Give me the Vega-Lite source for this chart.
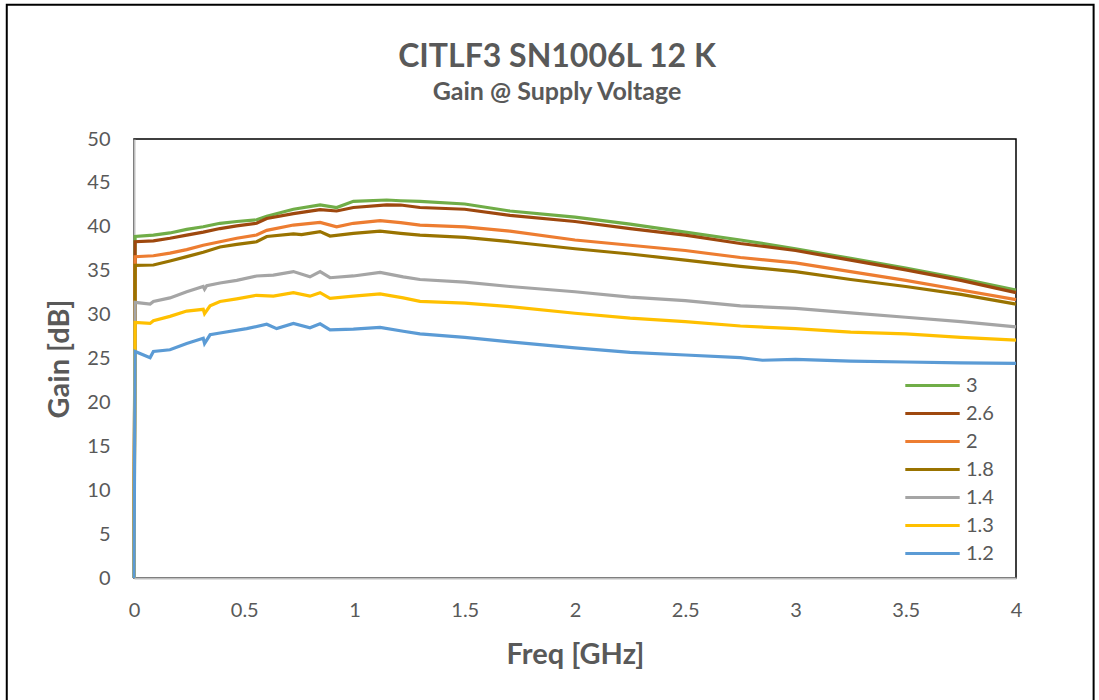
{
  "$schema": "https://vega.github.io/schema/vega-lite/v6.json",
  "width": 882,
  "height": 439,
  "autosize": "none",
  "padding": {"left": 134, "top": 139, "right": 83, "bottom": 122},
  "background": "white",
  "title": {
    "text": "CITLF3 SN1006L 12 K",
    "subtitle": "Gain @ Supply Voltage",
    "anchor": "middle",
    "frame": "group",
    "dx": -18,
    "offset": -102,
    "font": "Lato",
    "fontSize": 32,
    "fontWeight": "bold",
    "color": "#595959",
    "subtitleFont": "Lato",
    "subtitleFontSize": 25,
    "subtitleFontWeight": "bold",
    "subtitleColor": "#595959",
    "subtitlePadding": 6
  },
  "config": {
    "view": {"stroke": "#000000", "strokeWidth": 1.5},
    "font": "Lato",
    "axis": {
      "labelFont": "Lato",
      "labelFontSize": 20,
      "labelColor": "#595959",
      "titleFont": "Lato",
      "titleFontSize": 29,
      "titleFontWeight": "bold",
      "titleColor": "#595959",
      "gridColor": "#d9d9d9",
      "gridWidth": 1.5,
      "domainColor": "#bfbfbf",
      "domainWidth": 2,
      "ticks": false
    },
    "legend": {
      "labelFont": "Lato",
      "labelFontSize": 20,
      "labelColor": "#595959"
    }
  },
  "datasets": {
    "gain": [
      {"V": "3", "f": 0, "g": 0},
      {"V": "3", "f": 0.005, "g": 38.9},
      {"V": "3", "f": 0.088, "g": 39.05},
      {"V": "3", "f": 0.163, "g": 39.3},
      {"V": "3", "f": 0.239, "g": 39.7},
      {"V": "3", "f": 0.314, "g": 40.0},
      {"V": "3", "f": 0.39, "g": 40.4},
      {"V": "3", "f": 0.466, "g": 40.6},
      {"V": "3", "f": 0.556, "g": 40.8},
      {"V": "3", "f": 0.602, "g": 41.2},
      {"V": "3", "f": 0.723, "g": 42.0},
      {"V": "3", "f": 0.844, "g": 42.5},
      {"V": "3", "f": 0.919, "g": 42.2},
      {"V": "3", "f": 0.995, "g": 42.9},
      {"V": "3", "f": 1.146, "g": 43.05},
      {"V": "3", "f": 1.209, "g": 42.97},
      {"V": "3", "f": 1.297, "g": 42.9},
      {"V": "3", "f": 1.5, "g": 42.6},
      {"V": "3", "f": 1.705, "g": 41.8},
      {"V": "3", "f": 2.0, "g": 41.1},
      {"V": "3", "f": 2.25, "g": 40.3},
      {"V": "3", "f": 2.5, "g": 39.4},
      {"V": "3", "f": 2.75, "g": 38.5},
      {"V": "3", "f": 3.0, "g": 37.5},
      {"V": "3", "f": 3.25, "g": 36.4},
      {"V": "3", "f": 3.5, "g": 35.3},
      {"V": "3", "f": 3.75, "g": 34.1},
      {"V": "3", "f": 4.0, "g": 32.8},

      {"V": "2.6", "f": 0, "g": 0},
      {"V": "2.6", "f": 0.005, "g": 38.3},
      {"V": "2.6", "f": 0.088, "g": 38.4},
      {"V": "2.6", "f": 0.163, "g": 38.7},
      {"V": "2.6", "f": 0.239, "g": 39.06},
      {"V": "2.6", "f": 0.314, "g": 39.4},
      {"V": "2.6", "f": 0.39, "g": 39.8},
      {"V": "2.6", "f": 0.466, "g": 40.1},
      {"V": "2.6", "f": 0.556, "g": 40.4},
      {"V": "2.6", "f": 0.602, "g": 40.95},
      {"V": "2.6", "f": 0.723, "g": 41.5},
      {"V": "2.6", "f": 0.844, "g": 41.95},
      {"V": "2.6", "f": 0.919, "g": 41.8},
      {"V": "2.6", "f": 0.995, "g": 42.2},
      {"V": "2.6", "f": 1.146, "g": 42.5},
      {"V": "2.6", "f": 1.209, "g": 42.48},
      {"V": "2.6", "f": 1.297, "g": 42.2},
      {"V": "2.6", "f": 1.5, "g": 42.0},
      {"V": "2.6", "f": 1.705, "g": 41.3},
      {"V": "2.6", "f": 2.0, "g": 40.6},
      {"V": "2.6", "f": 2.25, "g": 39.8},
      {"V": "2.6", "f": 2.5, "g": 39.06},
      {"V": "2.6", "f": 2.75, "g": 38.1},
      {"V": "2.6", "f": 3.0, "g": 37.3},
      {"V": "2.6", "f": 3.25, "g": 36.2},
      {"V": "2.6", "f": 3.5, "g": 35.1},
      {"V": "2.6", "f": 3.75, "g": 33.9},
      {"V": "2.6", "f": 4.0, "g": 32.5},

      {"V": "2", "f": 0, "g": 0},
      {"V": "2", "f": 0.005, "g": 36.6},
      {"V": "2", "f": 0.088, "g": 36.7},
      {"V": "2", "f": 0.163, "g": 37.0},
      {"V": "2", "f": 0.239, "g": 37.4},
      {"V": "2", "f": 0.314, "g": 37.9},
      {"V": "2", "f": 0.39, "g": 38.3},
      {"V": "2", "f": 0.466, "g": 38.7},
      {"V": "2", "f": 0.556, "g": 39.06},
      {"V": "2", "f": 0.602, "g": 39.6},
      {"V": "2", "f": 0.723, "g": 40.2},
      {"V": "2", "f": 0.844, "g": 40.5},
      {"V": "2", "f": 0.919, "g": 40.0},
      {"V": "2", "f": 0.995, "g": 40.4},
      {"V": "2", "f": 1.116, "g": 40.7},
      {"V": "2", "f": 1.209, "g": 40.47},
      {"V": "2", "f": 1.297, "g": 40.2},
      {"V": "2", "f": 1.5, "g": 40.0},
      {"V": "2", "f": 1.705, "g": 39.5},
      {"V": "2", "f": 2.0, "g": 38.5},
      {"V": "2", "f": 2.25, "g": 37.9},
      {"V": "2", "f": 2.5, "g": 37.3},
      {"V": "2", "f": 2.75, "g": 36.5},
      {"V": "2", "f": 3.0, "g": 35.9},
      {"V": "2", "f": 3.25, "g": 34.9},
      {"V": "2", "f": 3.5, "g": 33.9},
      {"V": "2", "f": 3.75, "g": 32.8},
      {"V": "2", "f": 4.0, "g": 31.7},

      {"V": "1.8", "f": 0, "g": 0},
      {"V": "1.8", "f": 0.005, "g": 35.6},
      {"V": "1.8", "f": 0.088, "g": 35.65},
      {"V": "1.8", "f": 0.163, "g": 36.1},
      {"V": "1.8", "f": 0.239, "g": 36.6},
      {"V": "1.8", "f": 0.314, "g": 37.1},
      {"V": "1.8", "f": 0.39, "g": 37.7},
      {"V": "1.8", "f": 0.466, "g": 38.0},
      {"V": "1.8", "f": 0.556, "g": 38.3},
      {"V": "1.8", "f": 0.602, "g": 38.9},
      {"V": "1.8", "f": 0.723, "g": 39.2},
      {"V": "1.8", "f": 0.76, "g": 39.1},
      {"V": "1.8", "f": 0.844, "g": 39.45},
      {"V": "1.8", "f": 0.889, "g": 38.95},
      {"V": "1.8", "f": 0.995, "g": 39.26},
      {"V": "1.8", "f": 1.116, "g": 39.5},
      {"V": "1.8", "f": 1.209, "g": 39.26},
      {"V": "1.8", "f": 1.297, "g": 39.06},
      {"V": "1.8", "f": 1.5, "g": 38.8},
      {"V": "1.8", "f": 1.705, "g": 38.3},
      {"V": "1.8", "f": 2.0, "g": 37.5},
      {"V": "1.8", "f": 2.25, "g": 36.9},
      {"V": "1.8", "f": 2.5, "g": 36.2},
      {"V": "1.8", "f": 2.75, "g": 35.5},
      {"V": "1.8", "f": 3.0, "g": 34.9},
      {"V": "1.8", "f": 3.25, "g": 34.0},
      {"V": "1.8", "f": 3.5, "g": 33.2},
      {"V": "1.8", "f": 3.75, "g": 32.3},
      {"V": "1.8", "f": 4.0, "g": 31.2},

      {"V": "1.4", "f": 0, "g": 0},
      {"V": "1.4", "f": 0.005, "g": 31.4},
      {"V": "1.4", "f": 0.073, "g": 31.2},
      {"V": "1.4", "f": 0.088, "g": 31.5},
      {"V": "1.4", "f": 0.163, "g": 31.9},
      {"V": "1.4", "f": 0.239, "g": 32.6},
      {"V": "1.4", "f": 0.314, "g": 33.2},
      {"V": "1.4", "f": 0.32, "g": 32.9},
      {"V": "1.4", "f": 0.33, "g": 33.3},
      {"V": "1.4", "f": 0.39, "g": 33.6},
      {"V": "1.4", "f": 0.466, "g": 33.9},
      {"V": "1.4", "f": 0.556, "g": 34.4},
      {"V": "1.4", "f": 0.632, "g": 34.5},
      {"V": "1.4", "f": 0.723, "g": 34.9},
      {"V": "1.4", "f": 0.798, "g": 34.3},
      {"V": "1.4", "f": 0.844, "g": 34.9},
      {"V": "1.4", "f": 0.889, "g": 34.2},
      {"V": "1.4", "f": 0.995, "g": 34.4},
      {"V": "1.4", "f": 1.116, "g": 34.8},
      {"V": "1.4", "f": 1.221, "g": 34.3},
      {"V": "1.4", "f": 1.297, "g": 34.0},
      {"V": "1.4", "f": 1.5, "g": 33.7},
      {"V": "1.4", "f": 1.705, "g": 33.2},
      {"V": "1.4", "f": 2.0, "g": 32.6},
      {"V": "1.4", "f": 2.25, "g": 32.0},
      {"V": "1.4", "f": 2.5, "g": 31.6},
      {"V": "1.4", "f": 2.75, "g": 31.0},
      {"V": "1.4", "f": 3.0, "g": 30.7},
      {"V": "1.4", "f": 3.25, "g": 30.2},
      {"V": "1.4", "f": 3.5, "g": 29.7},
      {"V": "1.4", "f": 3.75, "g": 29.2},
      {"V": "1.4", "f": 4.0, "g": 28.6},

      {"V": "1.3", "f": 0, "g": 0},
      {"V": "1.3", "f": 0.005, "g": 29.1},
      {"V": "1.3", "f": 0.073, "g": 29.0},
      {"V": "1.3", "f": 0.088, "g": 29.3},
      {"V": "1.3", "f": 0.163, "g": 29.8},
      {"V": "1.3", "f": 0.239, "g": 30.4},
      {"V": "1.3", "f": 0.314, "g": 30.6},
      {"V": "1.3", "f": 0.32, "g": 30.1},
      {"V": "1.3", "f": 0.345, "g": 31.0},
      {"V": "1.3", "f": 0.39, "g": 31.5},
      {"V": "1.3", "f": 0.466, "g": 31.8},
      {"V": "1.3", "f": 0.556, "g": 32.2},
      {"V": "1.3", "f": 0.632, "g": 32.1},
      {"V": "1.3", "f": 0.723, "g": 32.5},
      {"V": "1.3", "f": 0.798, "g": 32.1},
      {"V": "1.3", "f": 0.844, "g": 32.5},
      {"V": "1.3", "f": 0.889, "g": 31.85},
      {"V": "1.3", "f": 0.995, "g": 32.1},
      {"V": "1.3", "f": 1.116, "g": 32.35},
      {"V": "1.3", "f": 1.221, "g": 31.9},
      {"V": "1.3", "f": 1.297, "g": 31.5},
      {"V": "1.3", "f": 1.5, "g": 31.3},
      {"V": "1.3", "f": 1.705, "g": 30.9},
      {"V": "1.3", "f": 2.0, "g": 30.15},
      {"V": "1.3", "f": 2.25, "g": 29.6},
      {"V": "1.3", "f": 2.5, "g": 29.2},
      {"V": "1.3", "f": 2.75, "g": 28.7},
      {"V": "1.3", "f": 3.0, "g": 28.4},
      {"V": "1.3", "f": 3.25, "g": 28.0},
      {"V": "1.3", "f": 3.5, "g": 27.8},
      {"V": "1.3", "f": 3.75, "g": 27.4},
      {"V": "1.3", "f": 4.0, "g": 27.1},

      {"V": "1.2", "f": 0, "g": 0},
      {"V": "1.2", "f": 0.005, "g": 25.8},
      {"V": "1.2", "f": 0.073, "g": 25.1},
      {"V": "1.2", "f": 0.088, "g": 25.8},
      {"V": "1.2", "f": 0.163, "g": 26.0},
      {"V": "1.2", "f": 0.239, "g": 26.7},
      {"V": "1.2", "f": 0.314, "g": 27.3},
      {"V": "1.2", "f": 0.32, "g": 26.7},
      {"V": "1.2", "f": 0.345, "g": 27.7},
      {"V": "1.2", "f": 0.39, "g": 27.9},
      {"V": "1.2", "f": 0.511, "g": 28.4},
      {"V": "1.2", "f": 0.602, "g": 28.9},
      {"V": "1.2", "f": 0.647, "g": 28.4},
      {"V": "1.2", "f": 0.723, "g": 29.0},
      {"V": "1.2", "f": 0.798, "g": 28.5},
      {"V": "1.2", "f": 0.844, "g": 28.95},
      {"V": "1.2", "f": 0.889, "g": 28.25},
      {"V": "1.2", "f": 0.995, "g": 28.35},
      {"V": "1.2", "f": 1.116, "g": 28.55},
      {"V": "1.2", "f": 1.221, "g": 28.1},
      {"V": "1.2", "f": 1.297, "g": 27.8},
      {"V": "1.2", "f": 1.5, "g": 27.4},
      {"V": "1.2", "f": 1.705, "g": 26.9},
      {"V": "1.2", "f": 2.0, "g": 26.2},
      {"V": "1.2", "f": 2.25, "g": 25.7},
      {"V": "1.2", "f": 2.5, "g": 25.4},
      {"V": "1.2", "f": 2.75, "g": 25.1},
      {"V": "1.2", "f": 2.85, "g": 24.8},
      {"V": "1.2", "f": 3.0, "g": 24.9},
      {"V": "1.2", "f": 3.25, "g": 24.7},
      {"V": "1.2", "f": 3.5, "g": 24.6},
      {"V": "1.2", "f": 3.75, "g": 24.5},
      {"V": "1.2", "f": 4.0, "g": 24.45}
    ]
  },
  "layer": [
    {
      "data": {"values": [{"frame": "outer"}]},
      "mark": {"type": "rect", "fill": null, "filled": false, "stroke": "#000000", "strokeWidth": 2, "clip": false},
      "encoding": {
        "x": {"datum": -0.577, "type": "quantitative"},
        "x2": {"datum": 4.352},
        "y": {"datum": 65.3, "type": "quantitative"},
        "y2": {"datum": -16}
      }
    },
    {
      "data": {"name": "gain"},
      "mark": {"type": "line", "strokeWidth": 3.2, "interpolate": "linear"},
      "encoding": {
        "x": {
          "field": "f",
          "type": "quantitative",
          "scale": {"domain": [0, 4], "nice": false, "zero": false},
          "axis": {
            "title": "Freq [GHz]",
            "values": [0, 0.5, 1, 1.5, 2, 2.5, 3, 3.5, 4],
            "format": "~g",
            "labelPadding": 22,
            "titlePadding": 20,
            "labelFlush": false
          }
        },
        "y": {
          "field": "g",
          "type": "quantitative",
          "scale": {"domain": [0, 50], "nice": false},
          "axis": {
            "title": "Gain [dB]",
            "values": [0, 5, 10, 15, 20, 25, 30, 35, 40, 45, 50],
            "labelPadding": 24,
            "titlePadding": 12
          }
        },
        "color": {
          "field": "V",
          "type": "nominal",
          "sort": ["3", "2.6", "2", "1.8", "1.4", "1.3", "1.2"],
          "scale": {
            "domain": ["3", "2.6", "2", "1.8", "1.4", "1.3", "1.2"],
            "range": ["#70AD47", "#9E480E", "#ED7D31", "#997300", "#A5A5A5", "#FFC000", "#5B9BD5"]
          },
          "legend": {
            "title": null,
            "orient": "none",
            "legendX": 781,
            "legendY": 229,
            "symbolType": "M-1.7,0L1.7,0",
            "symbolStrokeWidth": 3,
            "symbolSize": 1024,
            "rowPadding": 0,
            "labelOffset": 16
          }
        },
        "order": {"field": "f", "type": "quantitative"}
      }
    }
  ]
}
